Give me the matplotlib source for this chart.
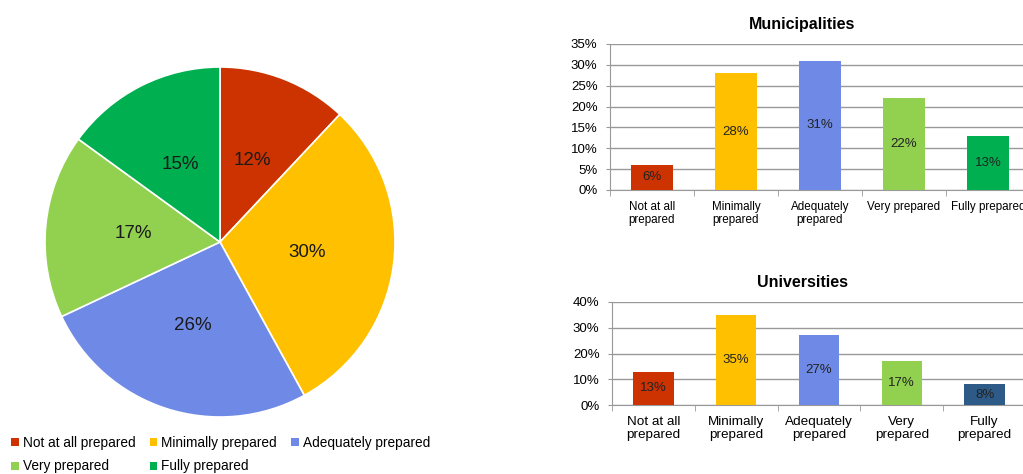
import matplotlib.pyplot as plt
from matplotlib.patches import Patch

plt.rcParams['font.family'] = ['Liberation Sans', 'DejaVu Sans']

# overall preparedness (pie)
levels = ['Not at all prepared', 'Minimally prepared', 'Adequately prepared',
          'Very prepared', 'Fully prepared']
overall = [12, 30, 26, 17, 15]

# per sector (bars)
muni_labels = ['Not at all\nprepared', 'Minimally\nprepared', 'Adequately\nprepared',
               'Very prepared', 'Fully prepared']
muni_values = [6, 28, 31, 22, 13]
uni_labels = ['Not at all\nprepared', 'Minimally\nprepared', 'Adequately\nprepared',
              'Very\nprepared', 'Fully\nprepared']
uni_values = [13, 35, 27, 17, 8]

colors = ['#CC3300', '#FFC000', '#6F8AE6', '#92D050', '#00B050']
uni_colors = ['#CC3300', '#FFC000', '#6F8AE6', '#92D050', '#2E5A87']

fig = plt.figure(figsize=(10.23, 4.74), dpi=100)

# --- pie ---
ax_pie = fig.add_axes([45 / 1023, 57 / 474, 350 / 1023, 350 / 474])
ax_pie.pie(overall, colors=colors, startangle=90, counterclock=False,
           autopct='%d%%', pctdistance=0.5,
           wedgeprops=dict(edgecolor='white', linewidth=1.2),
           textprops=dict(fontsize=13.5, color='#1a1a1a'))
ax_pie.set_xlim(-1.0, 1.0)
ax_pie.set_ylim(-1.0, 1.0)
ax_pie.set_aspect('equal')

handles = [Patch(facecolor=c, edgecolor='none') for c in colors]
order = [0, 3, 1, 4, 2]
fig.legend([handles[i] for i in order], [levels[i] for i in order],
           ncol=3, loc='upper left', bbox_to_anchor=(0.003, 0.097),
           frameon=False, fontsize=9.8, handlelength=0.55, handleheight=0.55,
           handletextpad=0.3, columnspacing=1.05, labelspacing=0.68,
           borderpad=0.1)


def bar_panel(rect, title, title_x, labels, label_size, values, cols, ymax, step):
    ax = fig.add_axes(rect)
    x = range(len(values))
    bars = ax.bar(x, values, width=0.49, color=cols, zorder=3)
    ax.bar_label(bars, labels=[f'{v}%' for v in values], label_type='center',
                 fontsize=9.5, color='#222222')
    ax.set_xlim(-0.5, len(values) - 0.5)
    ax.set_ylim(0, ymax)
    ax.set_yticks(range(0, ymax + 1, step))
    ax.set_yticklabels([f'{t}%' for t in range(0, ymax + 1, step)], fontsize=9.5)
    ax.set_xticks(list(x))
    ax.set_xticklabels(labels, fontsize=label_size, linespacing=1.1)
    ax.set_xticks([i - 0.5 for i in range(len(values) + 1)], minor=True)
    ax.tick_params(axis='x', which='major', length=0, pad=8)
    ax.tick_params(axis='x', which='minor', length=4, color='#999999')
    ax.tick_params(axis='y', length=3, color='#999999', pad=6)
    ax.grid(axis='y', color='#999999', linewidth=1, zorder=0)
    for side in ['top', 'right']:
        ax.spines[side].set_visible(False)
    for side in ['left', 'bottom']:
        ax.spines[side].set_color('#999999')
    ax.set_title(title, fontsize=11.5, fontweight='bold', pad=11, x=title_x)
    return ax


bar_panel([610 / 1023, 284 / 474, 420 / 1023, 146 / 474], 'Municipalities', 0.457,
          muni_labels, 8.4, muni_values, colors, 35, 5)
bar_panel([612 / 1023, 69 / 474, 414 / 1023, 103 / 474], 'Universities', 0.461,
          uni_labels, 9.7, uni_values, uni_colors, 40, 10)

fig.savefig('out.png', dpi=100, facecolor='white')
